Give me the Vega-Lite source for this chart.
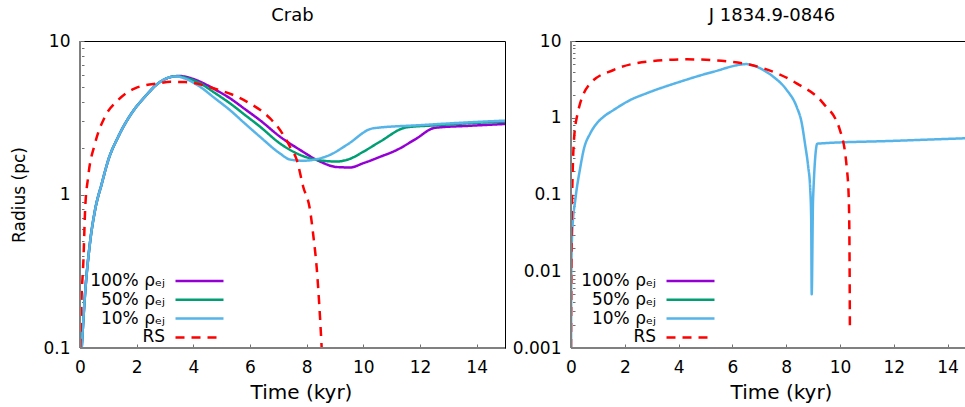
{
  "$schema": "https://vega.github.io/schema/vega-lite/v6.json",
  "background": "white",
  "padding": {"left": 10, "top": 6, "right": 0, "bottom": 0},
  "config": {
    "font": "DejaVu Sans",
    "view": {"stroke": "#000", "strokeWidth": 1},
    "axis": {"grid": false, "domain": false, "ticks": true, "offset": -4, "tickColor": "#707070", "tickWidth": 1, "labelColor": "#000", "titleColor": "#000", "labelFontSize": 17, "titleFontWeight": "normal", "labelOverlap": false, "labelBound": false, "labelFlush": false, "zindex": 2},
    "title": {"fontSize": 18, "fontWeight": "normal", "font": "DejaVu Sans", "offset": 7},
    "legend": {"orient": "none", "title": null, "symbolType": "M-3.2,0H3.2", "symbolSize": 225, "symbolStrokeWidth": 2.5, "labelFontSize": 17, "labelAlign": "right", "labelOffset": -43.5, "padding": 0, "rowPadding": 1.8, "labelColor": "#000"}
  },
  "resolve": {"scale": {"color": "independent", "strokeDash": "independent"}, "legend": {"color": "independent", "strokeDash": "independent"}},
  "spacing": 4,
  "hconcat": [
    {
      "title": {"text": "Crab"},
      "width": 425,
      "height": 307,
      "layer": [
        {
          "data": {"values": [
            {"t": 0.06, "r": 0.1, "s": "100% ρₑⱼ"}, {"t": 0.18, "r": 0.227, "s": "100% ρₑⱼ"}, {"t": 0.35, "r": 0.48, "s": "100% ρₑⱼ"}, {"t": 0.53, "r": 0.79, "s": "100% ρₑⱼ"}, {"t": 0.77, "r": 1.18, "s": "100% ρₑⱼ"}, {"t": 1.0, "r": 1.68, "s": "100% ρₑⱼ"}, {"t": 1.35, "r": 2.38, "s": "100% ρₑⱼ"}, {"t": 1.82, "r": 3.38, "s": "100% ρₑⱼ"}, {"t": 2.29, "r": 4.33, "s": "100% ρₑⱼ"}, {"t": 2.76, "r": 5.3, "s": "100% ρₑⱼ"}, {"t": 3.24, "r": 5.85, "s": "100% ρₑⱼ"}, {"t": 3.5, "r": 5.92, "s": "100% ρₑⱼ"}, {"t": 3.8, "r": 5.8, "s": "100% ρₑⱼ"}, {"t": 4.24, "r": 5.43, "s": "100% ρₑⱼ"}, {"t": 4.75, "r": 4.85, "s": "100% ρₑⱼ"}, {"t": 5.29, "r": 4.24, "s": "100% ρₑⱼ"}, {"t": 5.82, "r": 3.6, "s": "100% ρₑⱼ"}, {"t": 6.35, "r": 3.05, "s": "100% ρₑⱼ"}, {"t": 7.06, "r": 2.38, "s": "100% ρₑⱼ"}, {"t": 7.77, "r": 1.95, "s": "100% ρₑⱼ"}, {"t": 8.47, "r": 1.64, "s": "100% ρₑⱼ"}, {"t": 9.06, "r": 1.51, "s": "100% ρₑⱼ"}, {"t": 9.53, "r": 1.5, "s": "100% ρₑⱼ"}, {"t": 10.0, "r": 1.6, "s": "100% ρₑⱼ"}, {"t": 10.59, "r": 1.76, "s": "100% ρₑⱼ"}, {"t": 11.18, "r": 1.95, "s": "100% ρₑⱼ"}, {"t": 11.85, "r": 2.3, "s": "100% ρₑⱼ"}, {"t": 12.53, "r": 2.72, "s": "100% ρₑⱼ"}, {"t": 13.7, "r": 2.8, "s": "100% ρₑⱼ"}, {"t": 15.0, "r": 2.88, "s": "100% ρₑⱼ"},
            {"t": 0.06, "r": 0.1, "s": "50% ρₑⱼ"}, {"t": 0.18, "r": 0.227, "s": "50% ρₑⱼ"}, {"t": 0.35, "r": 0.48, "s": "50% ρₑⱼ"}, {"t": 0.53, "r": 0.79, "s": "50% ρₑⱼ"}, {"t": 0.77, "r": 1.18, "s": "50% ρₑⱼ"}, {"t": 1.0, "r": 1.68, "s": "50% ρₑⱼ"}, {"t": 1.35, "r": 2.38, "s": "50% ρₑⱼ"}, {"t": 1.82, "r": 3.38, "s": "50% ρₑⱼ"}, {"t": 2.29, "r": 4.33, "s": "50% ρₑⱼ"}, {"t": 2.76, "r": 5.3, "s": "50% ρₑⱼ"}, {"t": 3.24, "r": 5.85, "s": "50% ρₑⱼ"}, {"t": 3.45, "r": 5.9, "s": "50% ρₑⱼ"}, {"t": 3.75, "r": 5.75, "s": "50% ρₑⱼ"}, {"t": 4.24, "r": 5.3, "s": "50% ρₑⱼ"}, {"t": 4.75, "r": 4.6, "s": "50% ρₑⱼ"}, {"t": 5.29, "r": 3.93, "s": "50% ρₑⱼ"}, {"t": 5.82, "r": 3.3, "s": "50% ρₑⱼ"}, {"t": 6.35, "r": 2.77, "s": "50% ρₑⱼ"}, {"t": 7.06, "r": 2.15, "s": "50% ρₑⱼ"}, {"t": 7.77, "r": 1.81, "s": "50% ρₑⱼ"}, {"t": 8.47, "r": 1.67, "s": "50% ρₑⱼ"}, {"t": 9.06, "r": 1.64, "s": "50% ρₑⱼ"}, {"t": 9.5, "r": 1.7, "s": "50% ρₑⱼ"}, {"t": 10.0, "r": 1.9, "s": "50% ρₑⱼ"}, {"t": 10.59, "r": 2.21, "s": "50% ρₑⱼ"}, {"t": 11.53, "r": 2.74, "s": "50% ρₑⱼ"}, {"t": 12.5, "r": 2.82, "s": "50% ρₑⱼ"}, {"t": 14.0, "r": 2.93, "s": "50% ρₑⱼ"}, {"t": 15.0, "r": 2.98, "s": "50% ρₑⱼ"},
            {"t": 0.06, "r": 0.1, "s": "10% ρₑⱼ"}, {"t": 0.18, "r": 0.227, "s": "10% ρₑⱼ"}, {"t": 0.35, "r": 0.48, "s": "10% ρₑⱼ"}, {"t": 0.53, "r": 0.79, "s": "10% ρₑⱼ"}, {"t": 0.77, "r": 1.18, "s": "10% ρₑⱼ"}, {"t": 1.0, "r": 1.68, "s": "10% ρₑⱼ"}, {"t": 1.35, "r": 2.38, "s": "10% ρₑⱼ"}, {"t": 1.82, "r": 3.38, "s": "10% ρₑⱼ"}, {"t": 2.29, "r": 4.33, "s": "10% ρₑⱼ"}, {"t": 2.76, "r": 5.3, "s": "10% ρₑⱼ"}, {"t": 3.24, "r": 5.85, "s": "10% ρₑⱼ"}, {"t": 3.4, "r": 5.88, "s": "10% ρₑⱼ"}, {"t": 3.7, "r": 5.7, "s": "10% ρₑⱼ"}, {"t": 4.24, "r": 5.03, "s": "10% ρₑⱼ"}, {"t": 4.75, "r": 4.25, "s": "10% ρₑⱼ"}, {"t": 5.29, "r": 3.55, "s": "10% ρₑⱼ"}, {"t": 5.82, "r": 2.9, "s": "10% ρₑⱼ"}, {"t": 6.35, "r": 2.38, "s": "10% ρₑⱼ"}, {"t": 7.06, "r": 1.85, "s": "10% ρₑⱼ"}, {"t": 7.41, "r": 1.69, "s": "10% ρₑⱼ"}, {"t": 7.88, "r": 1.66, "s": "10% ρₑⱼ"}, {"t": 8.47, "r": 1.72, "s": "10% ρₑⱼ"}, {"t": 8.82, "r": 1.81, "s": "10% ρₑⱼ"}, {"t": 9.41, "r": 2.1, "s": "10% ρₑⱼ"}, {"t": 10.35, "r": 2.7, "s": "10% ρₑⱼ"}, {"t": 12.0, "r": 2.83, "s": "10% ρₑⱼ"}, {"t": 14.0, "r": 2.97, "s": "10% ρₑⱼ"}, {"t": 15.0, "r": 3.03, "s": "10% ρₑⱼ"},
            {"t": 0.01, "r": 0.1, "s": "RS"}, {"t": 0.05, "r": 0.2, "s": "RS"}, {"t": 0.12, "r": 0.37, "s": "RS"}, {"t": 0.18, "r": 0.79, "s": "RS"}, {"t": 0.29, "r": 1.31, "s": "RS"}, {"t": 0.53, "r": 2.15, "s": "RS"}, {"t": 0.88, "r": 3.21, "s": "RS"}, {"t": 1.35, "r": 4.13, "s": "RS"}, {"t": 1.94, "r": 4.92, "s": "RS"}, {"t": 2.76, "r": 5.3, "s": "RS"}, {"t": 3.2, "r": 5.42, "s": "RS"}, {"t": 3.71, "r": 5.4, "s": "RS"}, {"t": 4.71, "r": 4.92, "s": "RS"}, {"t": 5.88, "r": 4.03, "s": "RS"}, {"t": 6.71, "r": 3.13, "s": "RS"}, {"t": 7.06, "r": 2.63, "s": "RS"}, {"t": 7.41, "r": 2.05, "s": "RS"}, {"t": 7.65, "r": 1.68, "s": "RS"}, {"t": 7.88, "r": 1.12, "s": "RS"}, {"t": 8.12, "r": 0.79, "s": "RS"}, {"t": 8.24, "r": 0.53, "s": "RS"}, {"t": 8.35, "r": 0.34, "s": "RS"}, {"t": 8.47, "r": 0.16, "s": "RS"}, {"t": 8.53, "r": 0.1, "s": "RS"}
          ]},
          "mark": {"type": "line", "strokeWidth": 2.5, "interpolate": "monotone", "clip": true},
          "encoding": {
            "x": {"field": "t", "type": "quantitative", "scale": {"domain": [0, 15], "nice": false}, "axis": {"title": "Time (kyr)", "titleFontSize": 20, "titlePadding": 7, "titleX": 221, "titleAlign": "center", "values": [0, 2, 4, 6, 8, 10, 12, 14], "tickSize": 4, "labelPadding": 11}},
            "y": {"field": "r", "type": "quantitative", "scale": {"type": "log", "domain": [0.1, 10], "nice": false}, "axis": {"title": "Radius (pc)", "titleFontSize": 17, "titlePadding": 14, "values": [0.1, 0.2, 0.3, 0.4, 0.5, 0.6, 0.7, 0.8, 0.9, 1, 2, 3, 4, 5, 6, 7, 8, 9, 10], "labelExpr": "datum.value == 0.1 ? '0.1' : datum.value == 1 ? '1' : datum.value == 10 ? '10' : ''", "tickSize": {"condition": {"test": "datum.value == 0.1 || datum.value == 1 || datum.value == 10", "value": 4}, "value": 2.5}, "labelPadding": 10}},
            "color": {"field": "s", "type": "nominal", "sort": null, "scale": {"domain": ["100% ρₑⱼ", "50% ρₑⱼ", "10% ρₑⱼ", "RS"], "range": ["#9400d3", "#009e73", "#56b4e9", "#ff0000"]}, "legend": {"legendX": 110.5, "legendY": 231}},
            "strokeDash": {"field": "s", "type": "nominal", "sort": null, "scale": {"domain": ["100% ρₑⱼ", "50% ρₑⱼ", "10% ρₑⱼ", "RS"], "range": [[1, 0], [1, 0], [1, 0], [9, 7]]}, "legend": {"legendX": 110.5, "legendY": 231}}
          }
        },
        {
          "data": {"values": [{}]},
          "mark": {"type": "rule", "color": "#808080", "strokeWidth": 2},
          "encoding": {"x": {"datum": 0}}
        },
        {
          "data": {"values": [{}]},
          "mark": {"type": "rule", "color": "#808080", "strokeWidth": 2},
          "encoding": {"y": {"datum": 0.1}}
        }
      ]
    },
    {
      "title": {"text": "J 1834.9-0846", "dx": 4},
      "width": 394,
      "height": 307,
      "layer": [
        {
          "data": {"values": [
            {"t": 0.003, "r": 0.001, "s": "10% ρₑⱼ"}, {"t": 0.01, "r": 0.01, "s": "10% ρₑⱼ"}, {"t": 0.05, "r": 0.035, "s": "10% ρₑⱼ"}, {"t": 0.16, "r": 0.085, "s": "10% ρₑⱼ"}, {"t": 0.35, "r": 0.23, "s": "10% ρₑⱼ"}, {"t": 0.47, "r": 0.38, "s": "10% ρₑⱼ"}, {"t": 0.72, "r": 0.63, "s": "10% ρₑⱼ"}, {"t": 0.965, "r": 0.85, "s": "10% ρₑⱼ"}, {"t": 1.21, "r": 1.03, "s": "10% ρₑⱼ"}, {"t": 1.58, "r": 1.26, "s": "10% ρₑⱼ"}, {"t": 2.2, "r": 1.7, "s": "10% ρₑⱼ"}, {"t": 2.82, "r": 2.09, "s": "10% ρₑⱼ"}, {"t": 4.06, "r": 2.95, "s": "10% ρₑⱼ"}, {"t": 5.3, "r": 3.98, "s": "10% ρₑⱼ"}, {"t": 6.54, "r": 5.0, "s": "10% ρₑⱼ"}, {"t": 6.9, "r": 4.63, "s": "10% ρₑⱼ"}, {"t": 7.15, "r": 4.19, "s": "10% ρₑⱼ"}, {"t": 7.52, "r": 3.43, "s": "10% ρₑⱼ"}, {"t": 8.02, "r": 2.3, "s": "10% ρₑⱼ"}, {"t": 8.39, "r": 1.39, "s": "10% ρₑⱼ"}, {"t": 8.58, "r": 0.85, "s": "10% ρₑⱼ"}, {"t": 8.7, "r": 0.46, "s": "10% ρₑⱼ"}, {"t": 8.82, "r": 0.23, "s": "10% ρₑⱼ"}, {"t": 8.89, "r": 0.126, "s": "10% ρₑⱼ"}, {"t": 8.93, "r": 0.05, "s": "10% ρₑⱼ"}, {"t": 8.95, "r": 0.005, "s": "10% ρₑⱼ"}, {"t": 9.0, "r": 0.085, "s": "10% ρₑⱼ"}, {"t": 9.16, "r": 0.46, "s": "10% ρₑⱼ"}, {"t": 12.0, "r": 0.5, "s": "10% ρₑⱼ"}, {"t": 14.65, "r": 0.54, "s": "10% ρₑⱼ"},
            {"t": 0.0, "r": 0.001, "s": "RS"}, {"t": 0.02, "r": 0.03, "s": "RS"}, {"t": 0.04, "r": 0.085, "s": "RS"}, {"t": 0.1, "r": 0.45, "s": "RS"}, {"t": 0.22, "r": 1.03, "s": "RS"}, {"t": 0.72, "r": 2.81, "s": "RS"}, {"t": 1.58, "r": 4.19, "s": "RS"}, {"t": 2.82, "r": 5.38, "s": "RS"}, {"t": 4.31, "r": 5.77, "s": "RS"}, {"t": 5.92, "r": 5.38, "s": "RS"}, {"t": 7.15, "r": 4.41, "s": "RS"}, {"t": 8.39, "r": 2.81, "s": "RS"}, {"t": 9.38, "r": 1.54, "s": "RS"}, {"t": 10.0, "r": 0.69, "s": "RS"}, {"t": 10.25, "r": 0.23, "s": "RS"}, {"t": 10.33, "r": 0.085, "s": "RS"}, {"t": 10.355, "r": 0.02, "s": "RS"}, {"t": 10.37, "r": 0.0019, "s": "RS"}
          ]},
          "mark": {"type": "line", "strokeWidth": 2.5, "interpolate": "monotone", "clip": true},
          "encoding": {
            "x": {"field": "t", "type": "quantitative", "scale": {"domain": [0, 14.65], "nice": false}, "axis": {"title": "Time (kyr)", "titleFontSize": 20, "titlePadding": 7, "titleX": 210, "titleAlign": "center", "values": [0, 2, 4, 6, 8, 10, 12, 14], "tickSize": 4, "labelPadding": 11}},
            "y": {"field": "r", "type": "quantitative", "scale": {"type": "log", "domain": [0.001, 10], "nice": false}, "axis": {"title": null, "values": [0.001, 0.002, 0.003, 0.004, 0.005, 0.006, 0.007, 0.008, 0.009, 0.01, 0.02, 0.03, 0.04, 0.05, 0.06, 0.07, 0.08, 0.09, 0.1, 0.2, 0.3, 0.4, 0.5, 0.6, 0.7, 0.8, 0.9, 1, 2, 3, 4, 5, 6, 7, 8, 9, 10], "labelExpr": "datum.value == 0.001 ? '0.001' : datum.value == 0.01 ? '0.01' : datum.value == 0.1 ? '0.1' : datum.value == 1 ? '1' : datum.value == 10 ? '10' : ''", "tickSize": {"condition": {"test": "datum.value == 0.001 || datum.value == 0.01 || datum.value == 0.1 || datum.value == 1 || datum.value == 10", "value": 4}, "value": 2.5}, "labelPadding": 10}},
            "color": {"field": "s", "type": "nominal", "sort": null, "scale": {"domain": ["100% ρₑⱼ", "50% ρₑⱼ", "10% ρₑⱼ", "RS"], "range": ["#9400d3", "#009e73", "#56b4e9", "#ff0000"]}, "legend": {"legendX": 110.5, "legendY": 231}},
            "strokeDash": {"field": "s", "type": "nominal", "sort": null, "scale": {"domain": ["100% ρₑⱼ", "50% ρₑⱼ", "10% ρₑⱼ", "RS"], "range": [[1, 0], [1, 0], [1, 0], [9, 7]]}, "legend": {"legendX": 110.5, "legendY": 231}}
          }
        },
        {
          "data": {"values": [{}]},
          "mark": {"type": "rule", "color": "#808080", "strokeWidth": 2},
          "encoding": {"x": {"datum": 0}}
        },
        {
          "data": {"values": [{}]},
          "mark": {"type": "rule", "color": "#808080", "strokeWidth": 2},
          "encoding": {"y": {"datum": 0.001}}
        }
      ]
    }
  ]
}
